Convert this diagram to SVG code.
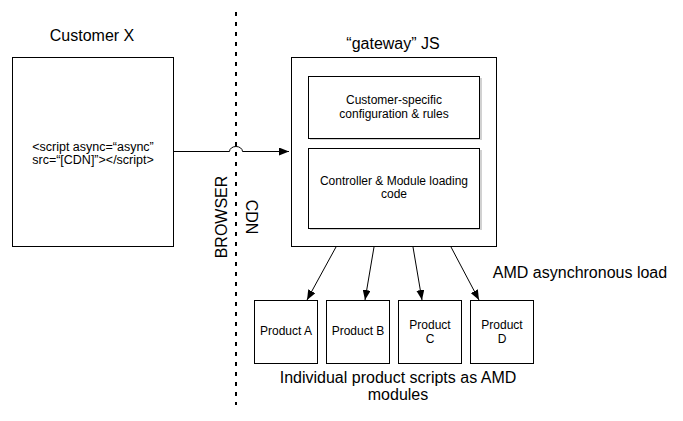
<svg xmlns="http://www.w3.org/2000/svg" width="683" height="421" viewBox="0 0 683 421">
<defs>
<style>
text{font-family:"Liberation Sans",Arial,sans-serif;fill:#000;text-anchor:middle}
.box{fill:#fff;stroke:#000;stroke-width:1}
.sh{fill:#bdbdbd;stroke:none;opacity:0.7}
.big{font-size:16px}
.sm{font-size:12px}
.scr{font-size:12.5px}
.edge{fill:none;stroke:#000;stroke-width:1}
</style>
<marker id="ah" viewBox="0 0 10 8" refX="10" refY="4" markerWidth="10" markerHeight="8" markerUnits="userSpaceOnUse" orient="auto">
<path d="M0,0 L10,4 L0,8 Z" fill="#000"/>
</marker>
</defs>
<rect width="683" height="421" fill="#fff"/>

<g id="divider">
<line x1="236" y1="12" x2="236" y2="405" stroke="#000" stroke-width="2" stroke-dasharray="4 6"/>
<text class="big" transform="translate(227,217) rotate(-90)">BROWSER</text>
<text class="big" transform="translate(246,217) rotate(90)">CDN</text>
</g>

<g id="customer">
<text class="big" x="92" y="41">Customer X</text>
<rect class="box" x="12.5" y="57.5" width="161" height="189"/>
<text class="scr" x="93" y="151">&lt;script async=“async”</text>
<text class="scr" x="93" y="164">src=“[CDN]”&gt;&lt;/script&gt;</text>
</g>

<g id="gateway">
<text class="big" x="393" y="49">“gateway” JS</text>
<rect class="box" x="291.5" y="57.5" width="205" height="189"/>
</g>

<g id="config">
<rect class="sh" x="310" y="78" width="172" height="62"/>
<rect class="box" x="308.5" y="76.5" width="171" height="62"/>
<text class="sm" x="394" y="104">Customer-specific</text>
<text class="sm" x="394" y="118">configuration &amp; rules</text>
</g>

<g id="controller">
<rect class="sh" x="310" y="150" width="172" height="80"/>
<rect class="box" x="308.5" y="148.5" width="171" height="80"/>
<text class="sm" x="394" y="185">Controller &amp; Module loading</text>
<text class="sm" x="394" y="198">code</text>
</g>

<g id="productA">
<rect class="box" x="254.5" y="300.5" width="63" height="63"/>
<text class="sm" x="286" y="335">Product A</text>
</g>
<g id="productB">
<rect class="box" x="326.5" y="300.5" width="63" height="63"/>
<text class="sm" x="358" y="335">Product B</text>
</g>
<g id="productC">
<rect class="box" x="398.5" y="300.5" width="63" height="63"/>
<text class="sm" x="430" y="329">Product</text>
<text class="sm" x="430" y="343">C</text>
</g>
<g id="productD">
<rect class="box" x="470.5" y="300.5" width="63" height="63"/>
<text class="sm" x="502" y="329">Product</text>
<text class="sm" x="502" y="343">D</text>
</g>

<g id="labels">
<text class="big" x="580" y="278">AMD asynchronous load</text>
<text class="big" x="398" y="383">Individual product scripts as AMD</text>
<text class="big" x="398" y="400">modules</text>
</g>

<g id="connectors">
<path class="edge" d="M173.5,151.5 H229.5 A6.5,5 0 0 1 242.5,151.5 H289" marker-end="url(#ah)"/>
<line class="edge" x1="336" y1="247" x2="307" y2="300" marker-end="url(#ah)"/>
<line class="edge" x1="374" y1="247" x2="365" y2="300" marker-end="url(#ah)"/>
<line class="edge" x1="413" y1="247" x2="422" y2="300" marker-end="url(#ah)"/>
<line class="edge" x1="451" y1="247" x2="479" y2="300" marker-end="url(#ah)"/>
</g>
</svg>
